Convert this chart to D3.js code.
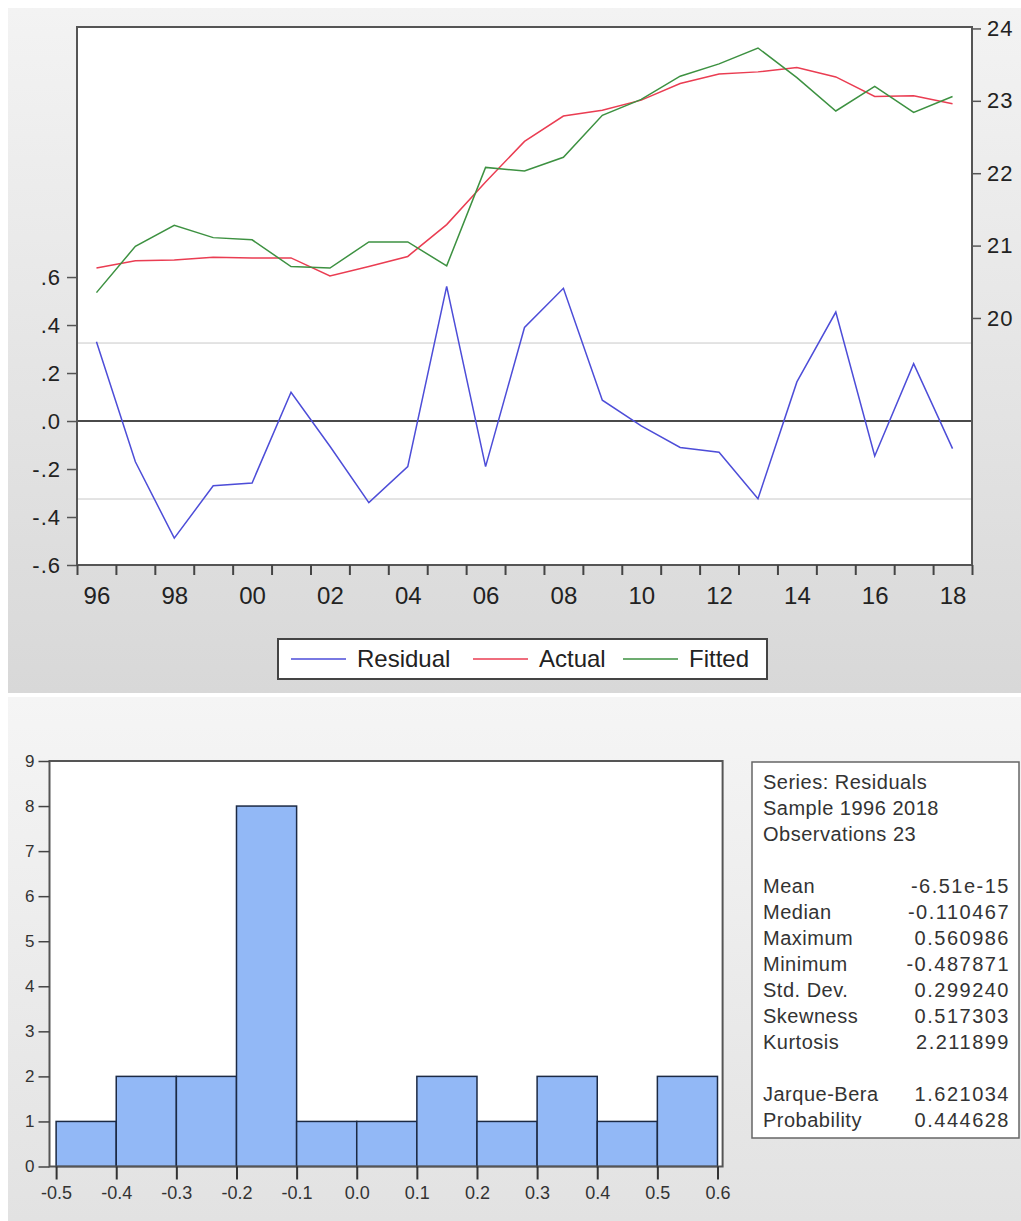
<!DOCTYPE html>
<html>
<head>
    <title>Residual / Actual / Fitted</title>
</head>
<meta charset="utf-8">
<style type="text/css">
    html, body {
        margin: 0;
        background: #fff;
        font-family: "Liberation Sans", Arial, sans-serif;
    }

    .axis text {
        fill: #222;
    }

    .hist text {
        fill: #333;
    }
</style>

<body>
<svg id="chart" width="1021" height="1221"></svg>

<script type="text/javascript" src="https://cdn.jsdelivr.net/npm/d3@7"></script>

<script>
    "use strict";

    // Residual / Actual / Fitted, 1996 - 2018
    const years = [1996, 1997, 1998, 1999, 2000, 2001, 2002, 2003, 2004, 2005, 2006, 2007,
        2008, 2009, 2010, 2011, 2012, 2013, 2014, 2015, 2016, 2017, 2018];
    const residual = [0.330, -0.170, -0.488, -0.270, -0.258, 0.120, -0.105, -0.340, -0.190, 0.561, -0.190, 0.390,
        0.553, 0.087, -0.020, -0.110, -0.130, -0.324, 0.163, 0.454, -0.146, 0.239, -0.115];
    const actual = [20.69, 20.79, 20.80, 20.84, 20.83, 20.83, 20.58, 20.71, 20.85, 21.29, 21.88, 22.44,
        22.79, 22.87, 23.01, 23.24, 23.37, 23.40, 23.46, 23.33, 23.06, 23.07, 22.96];
    const fitted = [20.35, 20.99, 21.28, 21.11, 21.08, 20.71, 20.69, 21.05, 21.05, 20.72, 22.08, 22.03,
        22.22, 22.80, 23.02, 23.34, 23.51, 23.73, 23.32, 22.86, 23.20, 22.84, 23.06];
    const yearLabels = [1996, 1998, 2000, 2002, 2004, 2006, 2008, 2010, 2012, 2014, 2016, 2018];
    const residTicks = [-0.6, -0.4, -0.2, 0.0, 0.2, 0.4, 0.6];
    const levelTicks = [20, 21, 22, 23, 24];
    const seBand = 0.325;
    const legendNames = ["Residual", "Actual", "Fitted"];

    // Histogram of residuals
    const binEdges = [-0.5, -0.4, -0.3, -0.2, -0.1, 0.0, 0.1, 0.2, 0.3, 0.4, 0.5, 0.6];
    const binCounts = [1, 2, 2, 8, 1, 1, 2, 1, 2, 1, 2];
    const countTicks = [0, 1, 2, 3, 4, 5, 6, 7, 8, 9];
    const headerLines = ["Series: Residuals", "Sample 1996 2018", "Observations 23"];
    const statNames = ["Mean", "Median", "Maximum", "Minimum", "Std. Dev.", "Skewness", "Kurtosis", "", "Jarque-Bera", "Probability"];
    const statValues = ["-6.51e-15", "-0.110467", "0.560986", "-0.487871", "0.299240", "0.517303", "2.211899", "", "1.621034", "0.444628"];

    const colors = {residual: "#4d4dd8", actual: "#ea3d52", fitted: "#3d9141"};

    const svg = d3.select("#chart");
    const defs = svg.append("defs");

    function gradient(id, from, to) {
        const g = defs.append("linearGradient").attr("id", id)
            .attr("x1", 0).attr("y1", 0).attr("x2", 0).attr("y2", 1);
        g.append("stop").attr("offset", "0%").attr("stop-color", from);
        g.append("stop").attr("offset", "100%").attr("stop-color", to);
    }
    gradient("topBg", "#f3f3f3", "#d8d8d8");
    gradient("bottomBg", "#f5f5f5", "#e2e2e2");

    // ---------- top panel ----------
    svg.append("rect").attr("x", 8).attr("y", 8).attr("width", 1013).attr("height", 685)
        .attr("fill", "url(#topBg)");

    const plot = {left: 77, right: 972, top: 27, bottom: 565};
    const x = d3.scaleLinear().domain([1995.5, 2018.5]).range([plot.left, plot.right]);
    const yRes = d3.scaleLinear().domain([-0.6, 1.642]).range([plot.bottom, plot.top]);
    const yLvl = d3.scaleLinear().domain([16.587, 24.02]).range([plot.bottom, plot.top]);

    svg.append("rect")
        .attr("x", plot.left).attr("y", plot.top)
        .attr("width", plot.right - plot.left).attr("height", plot.bottom - plot.top)
        .attr("fill", "#fff");

    // +/- S.E. lines and zero line
    svg.append("g").selectAll("line").data([seBand, -seBand]).enter().append("line")
        .attr("x1", plot.left).attr("x2", plot.right)
        .attr("y1", d => yRes(d)).attr("y2", d => yRes(d))
        .attr("stroke", "#c8c8c8").attr("stroke-width", 1);
    svg.append("line")
        .attr("x1", plot.left).attr("x2", plot.right)
        .attr("y1", yRes(0)).attr("y2", yRes(0))
        .attr("stroke", "#4a4a4a").attr("stroke-width", 2);

    const lvlLine = d3.line().x((d, i) => x(years[i])).y(d => yLvl(d));
    const resLine = d3.line().x((d, i) => x(years[i])).y(d => yRes(d));

    svg.append("path").datum(actual).attr("d", lvlLine)
        .attr("fill", "none").attr("stroke", colors.actual).attr("stroke-width", 1.5);
    svg.append("path").datum(fitted).attr("d", lvlLine)
        .attr("fill", "none").attr("stroke", colors.fitted).attr("stroke-width", 1.5);
    svg.append("path").datum(residual).attr("d", resLine)
        .attr("fill", "none").attr("stroke", colors.residual).attr("stroke-width", 1.5);

    svg.append("rect")
        .attr("x", plot.left).attr("y", plot.top)
        .attr("width", plot.right - plot.left).attr("height", plot.bottom - plot.top)
        .attr("fill", "none").attr("stroke", "#555").attr("stroke-width", 2);

    const fmtRes = v => (v < 0 ? "-" : "") + "." + Math.round(Math.abs(v) * 10);

    const leftAxis = svg.append("g").attr("class", "axis")
        .attr("transform", `translate(${plot.left},0)`)
        .call(d3.axisLeft(yRes).tickValues(residTicks).tickFormat(fmtRes).tickSizeInner(10).tickSizeOuter(0).tickPadding(6));
    leftAxis.select(".domain").remove();
    leftAxis.selectAll("line").attr("stroke", "#555").attr("stroke-width", 1.5);
    leftAxis.selectAll("text").attr("font-size", 22).attr("letter-spacing", 1)
        .attr("font-family", "Liberation Sans");

    const rightAxis = svg.append("g").attr("class", "axis")
        .attr("transform", `translate(${plot.right},0)`)
        .call(d3.axisRight(yLvl).tickValues(levelTicks).tickFormat(d3.format("d")).tickSizeInner(9).tickSizeOuter(0).tickPadding(6));
    rightAxis.select(".domain").remove();
    rightAxis.selectAll("line").attr("stroke", "#555").attr("stroke-width", 1.5);
    rightAxis.selectAll("text").attr("font-size", 22).attr("letter-spacing", 1)
        .attr("font-family", "Liberation Sans");

    const yearEdges = years.map(d => d - 0.5).concat([years[years.length - 1] + 0.5]);
    const tickAxis = svg.append("g").attr("class", "axis")
        .attr("transform", `translate(0,${plot.bottom})`)
        .call(d3.axisBottom(x).tickValues(yearEdges).tickFormat("").tickSizeInner(10).tickSizeOuter(0));
    tickAxis.select(".domain").remove();
    tickAxis.selectAll("line").attr("stroke", "#444").attr("stroke-width", 2);

    const labelAxis = svg.append("g").attr("class", "axis")
        .attr("transform", `translate(0,${plot.bottom})`)
        .call(d3.axisBottom(x).tickValues(yearLabels).tickFormat(d => String(d).slice(2)).tickSize(0));
    labelAxis.select(".domain").remove();
    labelAxis.selectAll("text").attr("y", 39).attr("dy", null)
        .attr("font-size", 24).attr("font-family", "Liberation Sans");

    // legend
    const legend = svg.append("g");
    legend.append("rect").attr("x", 278).attr("y", 639).attr("width", 489).attr("height", 40)
        .attr("fill", "#fff").attr("stroke", "#444").attr("stroke-width", 2);
    const legendX = [291, 473, 623];
    const legendColors = [colors.residual, colors.actual, colors.fitted];
    legendNames.forEach((name, i) => {
        legend.append("line")
            .attr("x1", legendX[i]).attr("x2", legendX[i] + 55)
            .attr("y1", 659).attr("y2", 659)
            .attr("stroke", legendColors[i]).attr("stroke-width", 1.5);
        legend.append("text")
            .attr("x", legendX[i] + 66).attr("y", 667)
            .attr("font-size", 24).attr("fill", "#222")
            .text(name);
    });

    // ---------- bottom panel ----------
    svg.append("rect").attr("x", 8).attr("y", 697).attr("width", 1013).attr("height", 524)
        .attr("fill", "url(#bottomBg)");

    const hbox = {left: 49.5, right: 722.6, top: 761, bottom: 1166.5};
    const hx = d3.scaleLinear().domain([-0.511, 0.6085]).range([hbox.left, hbox.right]);
    const hy = d3.scaleLinear().domain([0, 9]).range([hbox.bottom, hbox.top]);

    svg.append("rect")
        .attr("x", hbox.left).attr("y", hbox.top)
        .attr("width", hbox.right - hbox.left).attr("height", hbox.bottom - hbox.top)
        .attr("fill", "#fff");

    svg.append("g").selectAll("rect").data(binCounts).enter().append("rect")
        .attr("x", (d, i) => hx(binEdges[i]))
        .attr("width", (d, i) => hx(binEdges[i + 1]) - hx(binEdges[i]))
        .attr("y", d => hy(d))
        .attr("height", d => hy(0) - hy(d))
        .attr("fill", "#92b8f6")
        .attr("stroke", "#1c2a44")
        .attr("stroke-width", 1.5);

    svg.append("rect")
        .attr("x", hbox.left).attr("y", hbox.top)
        .attr("width", hbox.right - hbox.left).attr("height", hbox.bottom - hbox.top)
        .attr("fill", "none").attr("stroke", "#555").attr("stroke-width", 2);

    const hLeft = svg.append("g").attr("class", "hist")
        .attr("transform", `translate(${hbox.left},0)`)
        .call(d3.axisLeft(hy).tickValues(countTicks).tickFormat(d3.format("d")).tickSizeInner(11).tickSizeOuter(0).tickPadding(4));
    hLeft.select(".domain").remove();
    hLeft.selectAll("line").attr("stroke", "#444").attr("stroke-width", 1.5);
    hLeft.selectAll("text").attr("font-size", 17).attr("font-family", "Liberation Sans");

    const hBottom = svg.append("g").attr("class", "hist")
        .attr("transform", `translate(0,${hbox.bottom})`)
        .call(d3.axisBottom(hx).tickValues(binEdges).tickFormat(d => d.toFixed(1)).tickSizeInner(13).tickSizeOuter(0).tickPadding(7));
    hBottom.select(".domain").remove();
    hBottom.selectAll("line").attr("stroke", "#333").attr("stroke-width", 2);
    hBottom.selectAll("text").attr("font-size", 18).attr("font-family", "Liberation Sans");

    // statistics box
    const stats = svg.append("g").attr("class", "hist");
    stats.append("rect").attr("x", 752).attr("y", 762).attr("width", 267).attr("height", 376)
        .attr("fill", "#fff").attr("stroke", "#666").attr("stroke-width", 1.5);
    const rowY = k => 789 + k * 26;
    headerLines.forEach((line, k) => {
        stats.append("text").attr("x", 763).attr("y", rowY(k))
            .attr("font-size", 20).attr("letter-spacing", 0.5).text(line);
    });
    statNames.forEach((name, k) => {
        if (!name) return;
        stats.append("text").attr("x", 763).attr("y", rowY(k + 4))
            .attr("font-size", 20).attr("letter-spacing", 0.5).text(name);
        stats.append("text").attr("x", 1010).attr("y", rowY(k + 4))
            .attr("font-size", 20).attr("letter-spacing", 1.5)
            .attr("text-anchor", "end").text(statValues[k]);
    });
</script>
</body>
</html>
